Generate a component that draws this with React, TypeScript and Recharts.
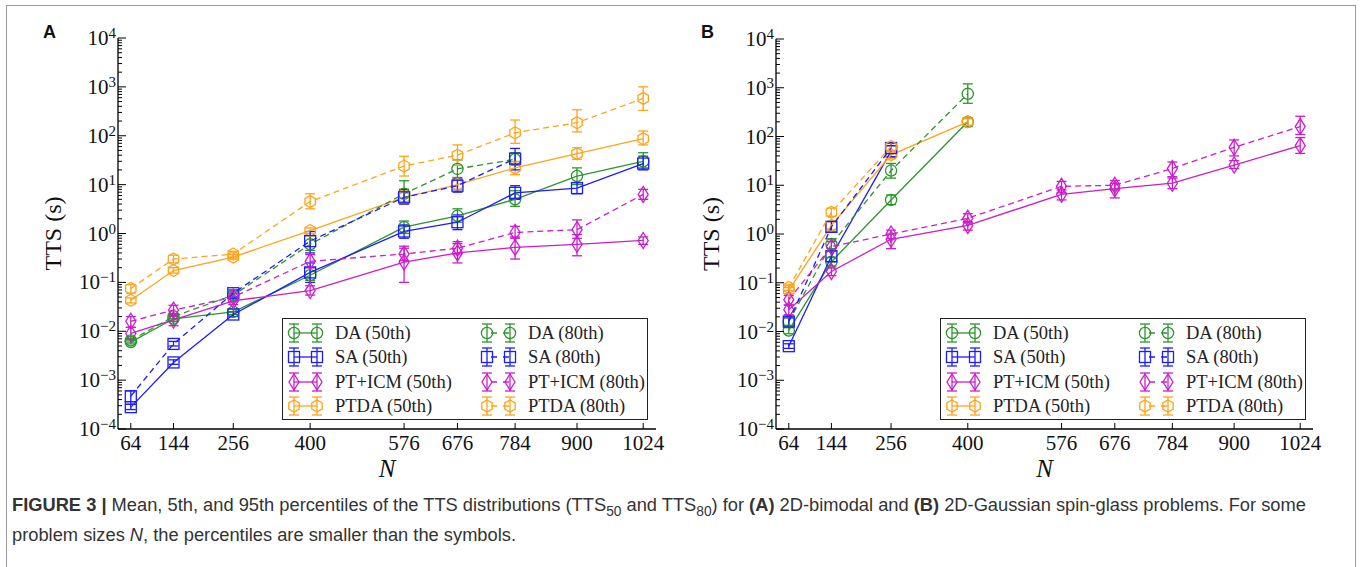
import React from 'react'
import { ComposedChart, ErrorBar, Scatter, XAxis, YAxis } from 'recharts'

// problem sizes N
const sizes = [64, 144, 256, 400, 576, 676, 784, 900, 1024]
const sizesTo784 = [64, 144, 256, 400, 576, 676, 784]
const sizesTo400 = [64, 144, 256, 400]
const sizesTo256 = [64, 144, 256]

const yMajor = [1e-4, 1e-3, 1e-2, 1e-1, 1, 10, 100, 1000, 10000]
const yMajorExp = ['−4', '−3', '−2', '−1', '0', '1', '2', '3', '4']

// [mean, 5th, 95th]  -- panel A (2D-bimodal)
const aDA50 = [[0.006, 0.0055, 0.0066], [0.018, 0.016, 0.021], [0.025, 0.022, 0.029], [0.14, 0.11, 0.2], [1.35, 1.0, 1.8], [2.3, 1.7, 3.2], [5.0, 3.6, 7.5], [15, 10, 22], [30, 22, 45]]
const aDA80 = [[0.0065, 0.006, 0.007], [0.02, 0.018, 0.023], [0.055, 0.048, 0.064], [0.6, 0.45, 0.9], [6.5, 4.5, 12], [21, 14, 32], [33, 25, 45]]
const aSA50 = [[2.8e-4, 2.5e-4, 3.2e-4], [2.3e-3, 2.1e-3, 2.6e-3], [0.022, 0.02, 0.025], [0.16, 0.1, 0.25], [1.1, 0.8, 1.5], [1.7, 1.2, 2.4], [6.8, 5, 9.5], [8.5, 6.5, 11], [27, 20, 38]]
const aSA80 = [[4.7e-4, 3.2e-4, 6e-4], [5.5e-3, 5e-3, 6.2e-3], [0.06, 0.05, 0.07], [0.7, 0.4, 1.1], [5.5, 4, 8], [9.5, 7, 13], [34, 20, 55]]
const aPT50 = [[0.009, 0.007, 0.012], [0.017, 0.013, 0.022], [0.042, 0.035, 0.05], [0.068, 0.055, 0.085], [0.26, 0.1, 0.55], [0.4, 0.25, 0.62], [0.52, 0.3, 0.85], [0.6, 0.35, 0.95], [0.72, 0.6, 0.85]]
const aPT80 = [[0.016, 0.012, 0.02], [0.027, 0.02, 0.034], [0.05, 0.04, 0.06], [0.27, 0.2, 0.37], [0.38, 0.28, 0.5], [0.5, 0.38, 0.68], [1.05, 0.8, 1.4], [1.2, 0.8, 1.9], [6.3, 5, 8]]
const aPTDA50 = [[0.043, 0.038, 0.048], [0.175, 0.155, 0.2], [0.33, 0.3, 0.37], [1.15, 1.0, 1.3], [5.5, 4, 7.5], [10, 8, 13], [22, 16, 30], [43, 33, 57], [87, 65, 125]]
const aPTDA80 = [[0.075, 0.06, 0.09], [0.3, 0.25, 0.36], [0.38, 0.33, 0.43], [4.5, 3.2, 6.5], [24, 15, 38], [40, 25, 65], [115, 70, 210], [185, 120, 340], [580, 330, 1000]]

// panel B (2D-Gaussian)
const bDA50 = [[0.0105, 0.009, 0.012], [0.27, 0.22, 0.33], [5, 4, 6.3], [200, 160, 240]]
const bDA80 = [[0.016, 0.013, 0.02], [0.62, 0.5, 0.8], [20, 14, 28], [750, 480, 1200]]
const bSA50 = [[0.005, 0.0045, 0.0056], [0.35, 0.27, 0.45], [50, 38, 65]]
const bSA80 = [[0.016, 0.013, 0.019], [1.4, 1.1, 1.8], [58, 45, 72]]
const bPT50 = [[0.028, 0.022, 0.035], [0.17, 0.14, 0.2], [0.78, 0.5, 1.0], [1.5, 1.2, 1.8], [6.5, 5, 8], [8.5, 5.5, 11], [11, 8.5, 14], [26, 22, 32], [65, 45, 95]]
const bPT80 = [[0.045, 0.035, 0.055], [0.55, 0.45, 0.7], [1.0, 0.8, 1.2], [2.1, 1.7, 2.6], [9.5, 7, 12], [10, 8, 12.5], [22, 15, 30], [60, 40, 85], [160, 110, 260]]
const bPTDA50 = [[0.07, 0.06, 0.08], [1.5, 1.2, 1.8], [42, 35, 50], [200, 170, 230]]
const bPTDA80 = [[0.08, 0.07, 0.09], [2.8, 2.3, 3.4], [62, 50, 75]]

const GREEN = '#2b962b'
const BLUE = '#1c1cff'
const MAGENTA = '#cc1ccc'
const ORANGE = '#ffa31a'

const SERIF = '"Liberation Serif", "DejaVu Serif", serif'

type Kind = 'circle' | 'square' | 'diamond' | 'hexagon'

interface Series {
  name: string
  color: string
  kind: Kind
  dashed: boolean
  n: number[]
  pts: number[][]
}

const seriesA: Series[] = [
  { name: 'DA (50th)', color: GREEN, kind: 'circle', dashed: false, n: sizes, pts: aDA50 },
  { name: 'SA (50th)', color: BLUE, kind: 'square', dashed: false, n: sizes, pts: aSA50 },
  { name: 'PT+ICM (50th)', color: MAGENTA, kind: 'diamond', dashed: false, n: sizes, pts: aPT50 },
  { name: 'PTDA (50th)', color: ORANGE, kind: 'hexagon', dashed: false, n: sizes, pts: aPTDA50 },
  { name: 'DA (80th)', color: GREEN, kind: 'circle', dashed: true, n: sizesTo784, pts: aDA80 },
  { name: 'SA (80th)', color: BLUE, kind: 'square', dashed: true, n: sizesTo784, pts: aSA80 },
  { name: 'PT+ICM (80th)', color: MAGENTA, kind: 'diamond', dashed: true, n: sizes, pts: aPT80 },
  { name: 'PTDA (80th)', color: ORANGE, kind: 'hexagon', dashed: true, n: sizes, pts: aPTDA80 },
]

const seriesB: Series[] = [
  { name: 'DA (50th)', color: GREEN, kind: 'circle', dashed: false, n: sizesTo400, pts: bDA50 },
  { name: 'SA (50th)', color: BLUE, kind: 'square', dashed: false, n: sizesTo256, pts: bSA50 },
  { name: 'PT+ICM (50th)', color: MAGENTA, kind: 'diamond', dashed: false, n: sizes, pts: bPT50 },
  { name: 'PTDA (50th)', color: ORANGE, kind: 'hexagon', dashed: false, n: sizesTo400, pts: bPTDA50 },
  { name: 'DA (80th)', color: GREEN, kind: 'circle', dashed: true, n: sizesTo400, pts: bDA80 },
  { name: 'SA (80th)', color: BLUE, kind: 'square', dashed: true, n: sizesTo256, pts: bSA80 },
  { name: 'PT+ICM (80th)', color: MAGENTA, kind: 'diamond', dashed: true, n: sizes, pts: bPT80 },
  { name: 'PTDA (80th)', color: ORANGE, kind: 'hexagon', dashed: true, n: sizesTo256, pts: bPTDA80 },
]

// log minor ticks 2..9 x 10^k
const yMinor: number[] = []
for (let k = -4; k < 4; k++) for (let m = 2; m < 10; m++) yMinor.push(m * Math.pow(10, k))
const yTicks = [...yMajor, ...yMinor].sort((a, b) => a - b)

const isMajor = (v: number) => yMajor.some((m) => Math.abs(m - v) / m < 1e-6)
const expOf = (v: number) => yMajorExp[yMajor.findIndex((m) => Math.abs(m - v) / m < 1e-6)]

function Marker({ kind, cx, cy, color }: { kind: Kind; cx: number; cy: number; color: string }) {
  const common = { fill: 'none', stroke: color, strokeWidth: 1.3 }
  if (kind === 'circle') return <circle cx={cx} cy={cy} r={5.6} {...common} />
  if (kind === 'square') return <rect x={cx - 5.5} y={cy - 5.5} width={11} height={11} {...common} />
  if (kind === 'diamond')
    return <polygon points={`${cx},${cy - 8} ${cx + 5},${cy} ${cx},${cy + 8} ${cx - 5},${cy}`} {...common} />
  const r = 6
  const pts = [-90, -30, 30, 90, 150, 210]
    .map((a) => `${cx + r * Math.cos((a * Math.PI) / 180)},${cy + r * Math.sin((a * Math.PI) / 180)}`)
    .join(' ')
  return <polygon points={pts} {...common} />
}

const LeftTick = (p: any) => {
  const { x, y, payload } = p
  const major = isMajor(payload.value)
  return (
    <g>
      <line x1={x} x2={x + (major ? 8 : 4)} y1={y} y2={y} stroke="#000" strokeWidth={1} />
      {major && (
        <text x={x - 2} y={y + 7} textAnchor="end" fontFamily={SERIF} fontSize={21} fill="#111">
          10<tspan dy={-7} fontSize={15}>{expOf(payload.value)}</tspan>
        </text>
      )}
    </g>
  )
}

const RightTick = (p: any) => {
  const { x, y, payload } = p
  const major = isMajor(payload.value)
  return <line x1={x} x2={x - (major ? 8 : 4)} y1={y} y2={y} stroke="#000" strokeWidth={1} />
}

const BottomTick = (p: any) => {
  const { x, y, payload } = p
  return (
    <g>
      <line x1={x} x2={x} y1={y} y2={y - 6} stroke="#000" strokeWidth={1} />
      <text x={x} y={y + 21} textAnchor="middle" fontFamily={SERIF} fontSize={21} fill="#111">
        {payload.value}
      </text>
    </g>
  )
}

const TopTick = (p: any) => {
  const { x, y } = p
  return <line x1={x} x2={x} y1={y} y2={y + 6} stroke="#000" strokeWidth={1} />
}

const yLabel = (props: any) => {
  const vb = props.viewBox
  const x = vb.x + vb.width - 57
  const y = vb.y + vb.height / 2
  return (
    <text x={x} y={y} transform={`rotate(-90 ${x} ${y})`} textAnchor="middle" fontFamily={SERIF} fontSize={24} fill="#111">
      TTS (s)
    </text>
  )
}

const xLabel = (props: any) => {
  const vb = props.viewBox
  return (
    <text x={vb.x + vb.width / 2} y={vb.y + 48} textAnchor="middle" fontFamily={SERIF} fontStyle="italic" fontSize={25} fill="#111">
      N
    </text>
  )
}

function LegendIcon({ s }: { s: Series }) {
  const cy = 12
  const xs = [7, 30]
  return (
    <svg width={38} height={24} style={{ position: 'absolute', left: 0, top: 0, overflow: 'visible' }}>
      <line x1={xs[0]} x2={xs[1]} y1={cy} y2={cy} stroke={s.color} strokeWidth={1.3} strokeDasharray={s.dashed ? '6 6' : undefined} strokeDashoffset={s.dashed ? -4 : 0} />
      {xs.map((x) => (
        <g key={x}>
          <line x1={x} x2={x} y1={cy - 9} y2={cy + 9} stroke={s.color} strokeWidth={1.3} />
          <line x1={x - 5} x2={x + 5} y1={cy - 9} y2={cy - 9} stroke={s.color} strokeWidth={1.3} />
          <line x1={x - 5} x2={x + 5} y1={cy + 9} y2={cy + 9} stroke={s.color} strokeWidth={1.3} />
          <Marker kind={s.kind} cx={x} cy={cy} color={s.color} />
        </g>
      ))}
    </svg>
  )
}

function PlotLegend({ series, left }: { series: Series[]; left: number }) {
  return (
    <div
      style={{
        position: 'absolute',
        left,
        top: 318,
        width: 366,
        height: 102,
        border: '1.3px solid #222',
        background: '#fff',
        boxSizing: 'border-box',
      }}
    >
      {series.map((s, i) => {
        const col = i < 4 ? 0 : 1
        const row = i % 4
        return (
          <div key={s.name} style={{ position: 'absolute', left: col ? 197 : 4, top: 2 + row * 24.3, height: 24, width: 170 }}>
            <LegendIcon s={s} />
            <span
              style={{
                position: 'absolute',
                left: 48,
                top: 1,
                fontFamily: SERIF,
                fontSize: 18.5,
                color: '#222',
                whiteSpace: 'nowrap',
                lineHeight: '22px',
              }}
            >
              {s.name}
            </span>
          </div>
        )
      })}
    </div>
  )
}

function Panel({ series, yAxisWidth, rightMargin, top, letter }: { series: Series[]; yAxisWidth: number; rightMargin: number; top: number; letter: string }) {
  return (
    <div style={{ position: 'relative', width: 680, height: 490 }}>
      <ComposedChart width={680} height={490} margin={{ top, right: rightMargin, bottom: 0, left: 0 }}>
        <XAxis
          dataKey="n"
          type="number"
          domain={[40, 1048]}
          allowDataOverflow
          ticks={sizes}
          interval={0}
          height={61}
          tickSize={0}
          tickMargin={0}
          tickLine={false}
          tick={<BottomTick />}
          axisLine={{ stroke: '#000', strokeWidth: 1.3 }}
          label={xLabel}
        />
        <XAxis
          xAxisId="top"
          orientation="top"
          type="number"
          domain={[40, 1048]}
          allowDataOverflow
          ticks={sizes}
          interval={0}
          height={0}
          tickSize={0}
          tickMargin={0}
          tickLine={false}
          tick={<TopTick />}
          axisLine={{ stroke: '#000', strokeWidth: 1.3 }}
        />
        <YAxis
          dataKey="v"
          type="number"
          scale="log"
          domain={[1e-4, 1e4]}
          allowDataOverflow
          ticks={yTicks}
          interval={0}
          width={yAxisWidth}
          tickSize={0}
          tickMargin={0}
          tickLine={false}
          tick={<LeftTick />}
          axisLine={{ stroke: '#000', strokeWidth: 1.3 }}
          label={yLabel}
        />
        <YAxis
          yAxisId="right"
          orientation="right"
          type="number"
          scale="log"
          domain={[1e-4, 1e4]}
          allowDataOverflow
          ticks={yTicks}
          interval={0}
          width={0}
          tickSize={0}
          tickMargin={0}
          tickLine={false}
          tick={<RightTick />}
          axisLine={{ stroke: '#000', strokeWidth: 1.3 }}
        />
        {series.map((s) => {
          const data = s.pts.map(([v, lo, hi], i) => ({ n: s.n[i], v, err: [v - lo, hi - v] }))
          return (
            <Scatter
              key={s.name}
              name={s.name}
              data={data}
              dataKey="v"
              isAnimationActive={false}
              line={{ stroke: s.color, strokeWidth: 1.3, strokeDasharray: s.dashed ? '6 4' : undefined }}
              lineType="joint"
              shape={(p: any) =>
                p.cx == null || p.cy == null ? <g /> : <Marker kind={s.kind} cx={p.cx} cy={p.cy} color={s.color} />
              }
            >
              <ErrorBar dataKey="err" direction="y" width={5} stroke={s.color} strokeWidth={1.3} />
            </Scatter>
          )
        })}
      </ComposedChart>
      <div style={{ position: 'absolute', left: yAxisWidth - 75, top: 22, fontFamily: '"Liberation Sans", Arial, sans-serif', fontWeight: 700, fontSize: 18, color: '#111' }}>
        {letter}
      </div>
      <PlotLegend series={series} left={yAxisWidth + 164} />
    </div>
  )
}

const subStyle = { fontSize: '0.75em', lineHeight: 0 }

export default function App() {
  return (
    <div style={{ position: 'absolute', left: 0, top: 0, width: 1360, height: 567, overflow: 'hidden', background: '#fff' }}>
      <div style={{ position: 'absolute', left: 6, top: 5, width: 1348, height: 620, border: '1px solid #9a9a9a' }} />
      <div style={{ position: 'absolute', left: 0, top: 0 }}>
        <Panel series={seriesA} yAxisWidth={118} rightMargin={24} top={38} letter="A" />
      </div>
      <div style={{ position: 'absolute', left: 680, top: 0 }}>
        <Panel series={seriesB} yAxisWidth={96} rightMargin={47} top={39} letter="B" />
      </div>
      <div
        style={{
          position: 'absolute',
          left: 12,
          top: 490,
          width: 1340,
          fontFamily: '"Liberation Sans", Arial, sans-serif',
          fontSize: 18.3,
          lineHeight: '30px',
          color: '#333',
          whiteSpace: 'nowrap',
        }}
      >
        <b>FIGURE 3 |</b> Mean, 5th, and 95th percentiles of the TTS distributions (TTS<sub style={subStyle}>50</sub> and TTS
        <sub style={subStyle}>80</sub>) for <b>(A)</b> 2D-bimodal and <b>(B)</b> 2D-Gaussian spin-glass problems. For some
        <br />
        problem sizes <i>N</i>, the percentiles are smaller than the symbols.
      </div>
    </div>
  )
}
